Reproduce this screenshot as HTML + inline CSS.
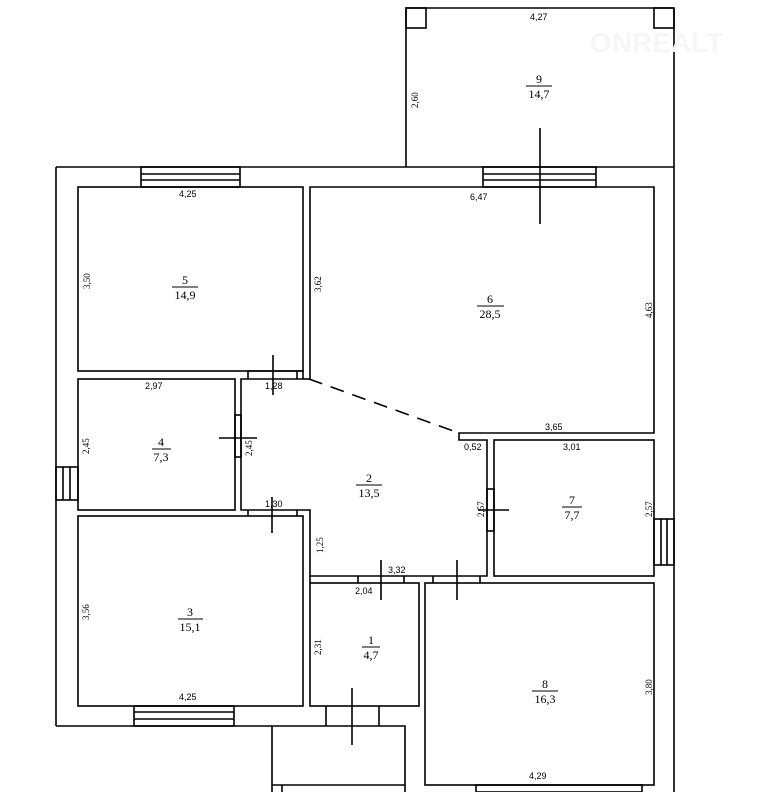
<!DOCTYPE html>
<html><head><meta charset="utf-8"><style>
body{margin:0;background:#fff}
svg{display:block}
text{font-family:"Liberation Serif",serif;fill:#000}
.d{font-size:9px;font-family:"Liberation Sans",sans-serif}
.n{font-size:12px;text-anchor:middle}
</style></head><body>
<svg width="774" height="792" viewBox="0 0 774 792" xmlns="http://www.w3.org/2000/svg">
<g stroke="#000" stroke-width="1.6" fill="none">
<line x1="56" y1="167" x2="674" y2="167"/>
<line x1="674" y1="8" x2="674" y2="792"/>
<line x1="56" y1="167" x2="56" y2="726"/>
<line x1="56" y1="726" x2="272" y2="726"/>
<polyline points="406,167 406,8 674,8"/>
<rect x="406" y="8" width="20" height="20"/>
<rect x="654" y="8" width="20" height="20"/>
<rect x="141" y="167" width="99" height="20"/><line x1="141" y1="174" x2="240" y2="174"/><line x1="141" y1="180" x2="240" y2="180"/>
<rect x="483" y="167" width="113" height="20"/><line x1="483" y1="174" x2="596" y2="174"/><line x1="483" y1="180" x2="596" y2="180"/>
<rect x="134" y="706" width="100" height="20"/><line x1="134" y1="712" x2="234" y2="712"/><line x1="134" y1="719" x2="234" y2="719"/>
<rect x="56" y="467" width="22" height="33"/><line x1="63" y1="467" x2="63" y2="500"/><line x1="70" y1="467" x2="70" y2="500"/>
<rect x="654" y="519" width="20" height="46"/><line x1="661" y1="519" x2="661" y2="565"/><line x1="667" y1="519" x2="667" y2="565"/>
<rect x="476" y="785" width="166" height="7"/>
<rect x="78" y="187" width="225" height="184"/>
<polyline points="310,379 310,187 654,187 654,433 459,433 459,440 487,440 487,576 310,576 310,510 241,510 241,379 303,379"/>
<polyline points="303,379 303,371 248,371 248,379"/>
<line x1="297" y1="371" x2="297" y2="379"/>
<line x1="303" y1="379" x2="310" y2="379"/>
<rect x="78" y="379" width="157" height="131"/>
<rect x="235" y="415" width="6" height="42"/>
<rect x="78" y="516" width="225" height="190"/>
<line x1="248" y1="510" x2="248" y2="516"/><line x1="297" y1="510" x2="297" y2="516"/>
<rect x="494" y="440" width="160" height="136"/>
<rect x="487" y="489" width="7" height="42"/>
<rect x="310" y="583" width="109" height="123"/>
<line x1="358" y1="576" x2="358" y2="583"/><line x1="404" y1="576" x2="404" y2="583"/>
<line x1="433" y1="576" x2="433" y2="583"/><line x1="480" y1="576" x2="480" y2="583"/>
<line x1="310" y1="576" x2="310" y2="583"/>
<rect x="425" y="583" width="229" height="202"/>
<line x1="326" y1="706" x2="326" y2="726"/><line x1="379" y1="706" x2="379" y2="726"/>
<polyline points="272,792 272,726 405,726 405,792"/>
<polyline points="272,785 405,785"/>
<line x1="282" y1="785" x2="282" y2="792"/>
<line x1="273" y1="355" x2="273" y2="395"/>
<line x1="219" y1="438" x2="257" y2="438"/>
<line x1="272" y1="497" x2="272" y2="533"/>
<line x1="540" y1="128" x2="540" y2="224"/>
<line x1="478" y1="510" x2="509" y2="510"/>
<line x1="381" y1="560" x2="381" y2="600"/>
<line x1="457" y1="560" x2="457" y2="600"/>
<line x1="352" y1="688" x2="352" y2="745"/>
<line x1="172" y1="287" x2="198" y2="287" stroke-width="1"/>
<line x1="477" y1="306" x2="504" y2="306" stroke-width="1"/>
<line x1="356" y1="485" x2="382" y2="485" stroke-width="1"/>
<line x1="152" y1="449" x2="171" y2="449" stroke-width="1"/>
<line x1="178" y1="619" x2="203" y2="619" stroke-width="1"/>
<line x1="362" y1="647" x2="380" y2="647" stroke-width="1"/>
<line x1="562" y1="507" x2="582" y2="507" stroke-width="1"/>
<line x1="532" y1="691" x2="558" y2="691" stroke-width="1"/>
<line x1="526" y1="86" x2="552" y2="86" stroke-width="1"/>
</g>
<line x1="309" y1="379" x2="459" y2="433" stroke="#000" stroke-width="1.6" stroke-dasharray="14,9"/>
<text class="n" x="185" y="284">5</text><text class="n" x="185" y="299">14,9</text>
<text class="n" x="490" y="303">6</text><text class="n" x="490" y="318">28,5</text>
<text class="n" x="369" y="482">2</text><text class="n" x="369" y="497">13,5</text>
<text class="n" x="161" y="446">4</text><text class="n" x="161" y="461">7,3</text>
<text class="n" x="190" y="616">3</text><text class="n" x="190" y="631">15,1</text>
<text class="n" x="371" y="644">1</text><text class="n" x="371" y="659">4,7</text>
<text class="n" x="572" y="504">7</text><text class="n" x="572" y="519">7,7</text>
<text class="n" x="545" y="688">8</text><text class="n" x="545" y="703">16,3</text>
<text class="n" x="539" y="83">9</text><text class="n" x="539" y="98">14,7</text>
<text class="d" x="179" y="197">4,25</text>
<text class="d" x="470" y="200">6,47</text>
<text class="d" x="530" y="20">4,27</text>
<text class="d" x="145" y="389">2,97</text>
<text class="d" x="265" y="389">1,28</text>
<text class="d" x="265" y="507">1,30</text>
<text class="d" x="464" y="450">0,52</text>
<text class="d" x="545" y="430">3,65</text>
<text class="d" x="563" y="450">3,01</text>
<text class="d" x="388" y="573">3,32</text>
<text class="d" x="355" y="594">2,04</text>
<text class="d" x="179" y="700">4,25</text>
<text class="d" x="529" y="779">4,29</text>
<g class="d">
<text transform="translate(90,289) rotate(-90)">3,50</text>
<text transform="translate(321,292) rotate(-90)">3,62</text>
<text transform="translate(652,318) rotate(-90)">4,63</text>
<text transform="translate(418,108) rotate(-90)">2,60</text>
<text transform="translate(89,454) rotate(-90)">2,45</text>
<text transform="translate(252,456) rotate(-90)">2,45</text>
<text transform="translate(89,620) rotate(-90)">3,56</text>
<text transform="translate(323,553) rotate(-90)">1,25</text>
<text transform="translate(321,655) rotate(-90)">2,31</text>
<text transform="translate(484,517) rotate(-90)">2,57</text>
<text transform="translate(652,517) rotate(-90)">2,57</text>
<text transform="translate(652,695) rotate(-90)">3,80</text>
</g>
<text x="590" y="52" style="font-family:'Liberation Sans',sans-serif;font-size:28px;font-weight:bold;fill:#f6f6f6">ONREALT</text>
</svg>
</body></html>
